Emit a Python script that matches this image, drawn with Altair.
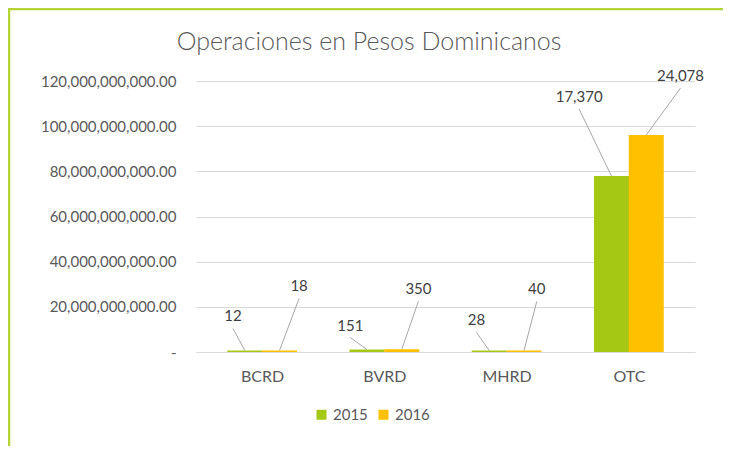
import altair as alt
import pandas as pd

# ---- data ----
categories = ["BCRD", "BVRD", "MHRD", "OTC"]
years = ["2015", "2016"]
values_2015 = [0.7e9, 1.1e9, 0.7e9, 77.9e9]
values_2016 = [0.7e9, 1.2e9, 0.7e9, 96.1e9]
counts_2015 = [12, 151, 28, 17370]
counts_2016 = [18, 350, 40, 24078]
title_text = "Operaciones en Pesos Dominicanos"

# ---- layout constants ----
PLOT_W, PLOT_H = 499, 271
PAD_L, PAD_T = 188, 73
PAD_R = 715 - PAD_L - PLOT_W
PAD_B = 438 - PAD_T - PLOT_H
Y_MAX = 120e9
X_PX = PLOT_W / 4.0           # px per category unit
Y_PX = PLOT_H / Y_MAX         # px per value unit
BAR_HALF = 17.75 / X_PX       # half bar width in category units
# label offsets (px) from bar top centre, per series
LBL_DX = {"2015": [-12, -17, -13, -33], "2016": [20, 17, 13, 35]}
LBL_DY = {"2015": [-34, -24, -30, -79], "2016": [-64, -60, -61, -59]}
LINE_GAP = 12

GREEN = "#A5C814"
ORANGE = "#FFC000"
TXT = "#595959"
FONT = "Lato"

rows = []
for yi, (yr, vals, cnts) in enumerate(zip(years, [values_2015, values_2016], [counts_2015, counts_2016])):
    sgn = -1 if yi == 0 else 1
    for ci, cat in enumerate(categories):
        cx = ci + 1 + sgn * BAR_HALF
        lx = cx + LBL_DX[yr][ci] / X_PX
        ly = vals[ci] - LBL_DY[yr][ci] / Y_PX
        rows.append({
            "category": cat, "year": yr, "value": vals[ci], "count": cnts[ci],
            "xc": cx, "lx": lx, "ly": ly, "ly0": ly - LINE_GAP / Y_PX,
        })
df = pd.DataFrame(rows)

xscale = alt.Scale(domain=[0.5, 4.5], nice=False, zero=False)
yscale = alt.Scale(domain=[0, Y_MAX], nice=False)

base = alt.Chart(df)

bars = base.mark_bar(size=35, orient="vertical").encode(
    x=alt.X("xc:Q", scale=xscale, title=None,
            axis=alt.Axis(values=[1, 2, 3, 4], grid=False, domain=False, ticks=False,
                          labelExpr="['BCRD','BVRD','MHRD','OTC'][datum.value-1]",
                          labelFontSize=16, labelColor=TXT, labelFont=FONT, labelPadding=16)),
    y=alt.Y("value:Q", scale=yscale, stack=None, title=None,
            axis=alt.Axis(values=[0, 20e9, 40e9, 60e9, 80e9, 100e9, 120e9],
                          domain=False, ticks=False, gridColor="#D9D9D9", gridWidth=1,
                          labelExpr="datum.value == 0 ? '-\u2007\u2009' : format(datum.value, ',.2f')",
                          labelFontSize=15, labelColor=TXT, labelFont=FONT, labelPadding=20)),
    color=alt.Color("year:N", scale=alt.Scale(domain=years, range=[GREEN, ORANGE]),
                    legend=alt.Legend(title=None, orient="none", legendX=118, legendY=326,
                                      direction="horizontal", symbolType="square",
                                      symbolSize=100, symbolStrokeWidth=0,
                                      labelFontSize=15, labelColor=TXT, labelFont=FONT,
                                      labelOffset=4, columnPadding=8)),
)

leaders = base.mark_rule(color="#A6A6A6", strokeWidth=1).encode(
    x=alt.X("xc:Q", scale=xscale),
    x2="lx:Q",
    y=alt.Y("value:Q", scale=yscale),
    y2="ly0:Q",
)

labels = base.mark_text(fontSize=15, font=FONT, color="#404040", baseline="middle", align="center").encode(
    x=alt.X("lx:Q", scale=xscale),
    y=alt.Y("ly:Q", scale=yscale),
    text=alt.Text("count:Q", format=","),
)

single = alt.Data(values=[{"t": title_text}])
left_border = alt.Chart(single).mark_rule(color="#B5D334", strokeWidth=2.5).encode(
    x=alt.value(-PAD_L + 1), y=alt.value(-PAD_T + 1), y2=alt.value(PLOT_H + PAD_B))
top_border = alt.Chart(single).mark_rule(color="#B5D334", strokeWidth=2.5).encode(
    x=alt.value(-PAD_L), x2=alt.value(PLOT_W + PAD_R), y=alt.value(-PAD_T + 1))
title = alt.Chart(single).mark_text(fontSize=25, font=FONT, fontWeight=300, color=TXT,
                                    align="center", baseline="alphabetic").encode(
    x=alt.value(173), y=alt.value(-31), text="t:N")

chart = alt.layer(left_border, top_border, title, bars, leaders, labels).properties(
    width=PLOT_W, height=PLOT_H,
    autosize=alt.AutoSizeParams(type="none"),
    padding={"left": PAD_L, "top": PAD_T, "right": PAD_R, "bottom": PAD_B},
    background="white",
).configure_view(stroke=None)

chart.save("out.html", embed_options={"renderer": "svg", "actions": False})
